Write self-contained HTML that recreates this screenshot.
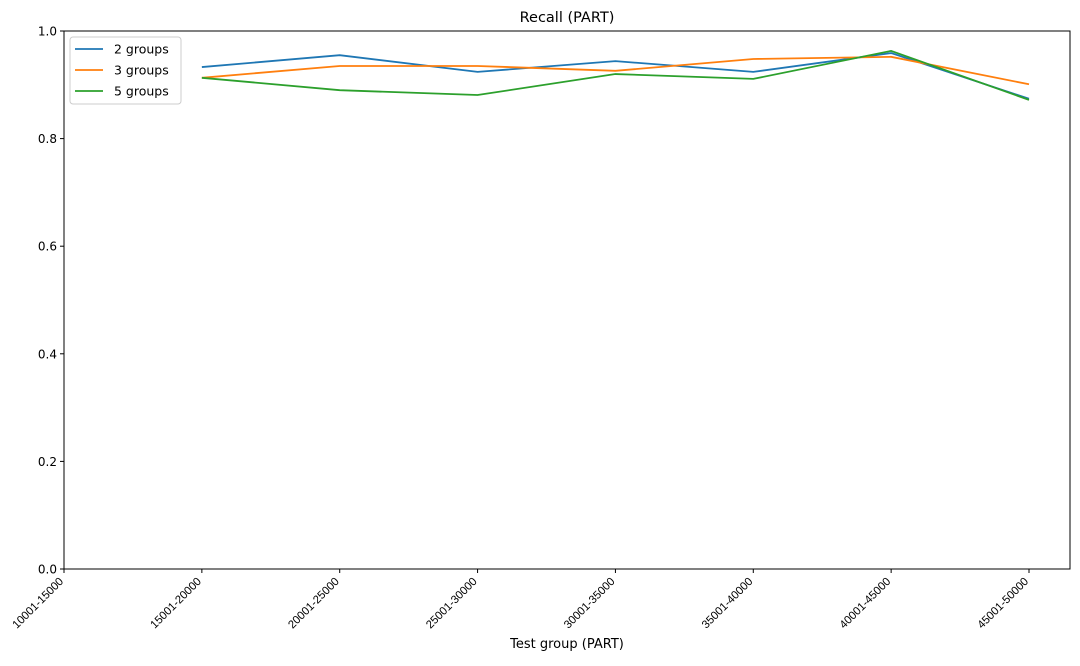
<!DOCTYPE html>
<html><head><meta charset="utf-8"><style>
body{margin:0;background:#fff;font-family:"Liberation Sans","DejaVu Sans",sans-serif;}
svg text{font-family:"DejaVu Sans","Liberation Sans",sans-serif;}
</style></head><body>
<svg id="chart" width="1080" height="661" xmlns="http://www.w3.org/2000/svg">
<rect width="1080" height="661" fill="#fff"/>
<text x="567" y="22" font-size="14.5" text-anchor="middle">Recall (PART)</text>
<g id="plot"></g>
<text x="567" y="648" font-size="13" text-anchor="middle">Test group (PART)</text>
</svg>
<script>
const categories=["10001-15000","15001-20000","20001-25000","25001-30000","30001-35000","35001-40000","40001-45000","45001-50000"];
const seriesNames=["2 groups","3 groups","5 groups"];
const s2=[null,0.933,0.955,0.924,0.944,0.924,0.959,0.874];
const s3=[null,0.913,0.935,0.935,0.926,0.948,0.952,0.901];
const s5=[null,0.913,0.890,0.881,0.920,0.911,0.963,0.872];
const yTicks=[0.0,0.2,0.4,0.6,0.8,1.0];
const colors=["#1f77b4","#ff7f0e","#2ca02c"];
const L=64,R=1070,T=31,B=569;
const x=i=>L+i*(1029-64)/7;
const y=v=>B-(v-0)/(1-0)*(B-T);
const NS="http://www.w3.org/2000/svg";
const g=document.getElementById('plot');
function mk(t,a){const e=document.createElementNS(NS,t);for(const k in a)e.setAttribute(k,a[k]);g.appendChild(e);return e;}
yTicks.forEach(v=>{
 const l=mk('line',{x1:L-4,x2:L,y1:y(v),y2:y(v),stroke:'#000'});
 
 
 const t=mk('text',{x:L-7,y:y(v)+4.5,'font-size':'12','text-anchor':'end'});
 t.textContent=v.toFixed(1);
 
 
});
categories.forEach((c,i)=>{
 const l=mk('line',{x1:x(i),x2:x(i),y1:B,y2:B+4,stroke:'#000'});
 
 
 const ax=x(i)+0, ay=B+13;
 const t=mk('text',{x:ax,y:ay,'font-size':'11.3','text-anchor':'end',style:'font-family:"Liberation Sans",sans-serif',transform:`rotate(-45 ${ax} ${ay})`});
 t.textContent=c;
 
 
});
[s2,s3,s5].forEach((s,k)=>{
 const pts=s.map((v,i)=>v==null?null:x(i)+','+y(v)).filter(p=>p).join(' ');
 const p=mk('polyline',{points:pts,fill:'none',stroke:colors[k],'stroke-width':'1.8'});
 
 
});
const fr=mk('rect',{x:L,y:T,width:R-L,height:B-T,fill:'none',stroke:'#000','stroke-width':'1'});


const lg=mk('rect',{x:70,y:37,width:111,height:67,rx:3,fill:'#fff',stroke:'#ccc'});


seriesNames.forEach((n,k)=>{
 const yy=49+k*21;
 const l=mk('line',{x1:75,x2:103,y1:yy,y2:yy,stroke:colors[k],'stroke-width':'1.8'});
 
 
 const t=mk('text',{x:114,y:yy+4.5,'font-size':'12.5'});
 t.textContent=n;
 
 
});
</script>
</body></html>
